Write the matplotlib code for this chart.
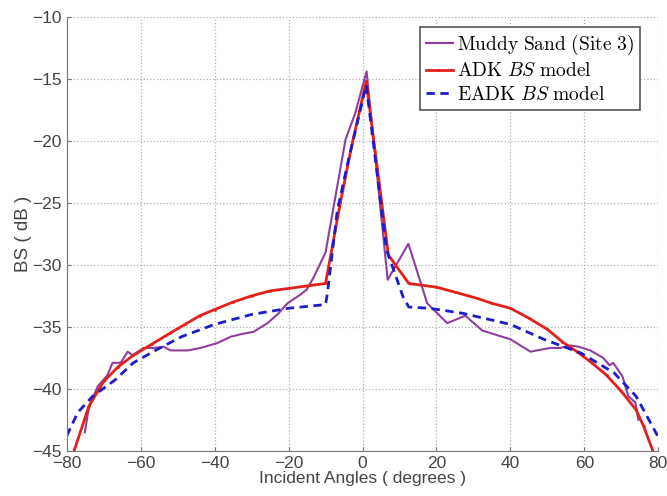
import matplotlib
matplotlib.use("Agg")
import matplotlib.pyplot as plt

plt.rcParams['mathtext.fontset'] = 'cm'
plt.rcParams['font.family'] = ['Liberation Sans', 'DejaVu Sans']

# medidas (Muddy Sand, site 3)
ang_med = [-75.1, -74, -71.6, -69, -67.6, -65.4, -63.5, -62.2, -59.2, -56.5, -53.8, -51.9,
           -47.3, -43.8, -39.2, -35.7, -33, -29.5, -25.7, -23, -20.3, -16.8, -15.1, -13.2,
           -10, -4.6, -2, 1.1, 6.8, 12.4, 17.5, 22.9, 27.8, 32.4, 40, 45.4, 50.8, 53.5,
           56.2, 58.4, 61.6, 65.1, 66.8, 67.8, 70.3, 71.9, 73.8, 74.6]
bs_med = [-43.5, -41.5, -39.8, -38.9, -37.9, -37.9, -37.0, -37.3, -36.7, -36.7, -36.6, -36.9,
          -36.9, -36.7, -36.3, -35.8, -35.6, -35.4, -34.7, -34.0, -33.1, -32.4, -32.0, -31.0,
          -29.0, -19.9, -17.8, -14.4, -31.2, -28.3, -33.1, -34.7, -34.1, -35.3, -36.0, -37.0, -36.7, -36.7,
          -36.5, -36.6, -36.9, -37.5, -38.1, -37.9, -39.0, -40.6, -41.1, -42.5]

# modelo ADK
ang_adk = [-79, -78, -74, -70, -66, -62, -57, -52, -48, -44, -40, -35, -30, -25, -20, -15, -10,
           -6, -3, 1, 7, 12.5, 20, 25, 31, 35, 40, 45, 50, 54, 58, 62, 66, 70, 74, 76, 78.4, 79]
bs_adk = [-46.2, -45.0, -41.4, -39.4, -38.2, -37.3, -36.4, -35.5, -34.8, -34.1, -33.6, -33.0,
          -32.5, -32.1, -31.9, -31.7, -31.5, -25.0, -20.5, -15.2, -29.2, -31.5, -31.8, -32.2,
          -32.7, -33.1, -33.5, -34.3, -35.2, -36.2, -37.0, -37.9, -38.9, -40.2, -41.7, -43.0,
          -44.9, -45.6]

# modelo EADK
ang_eadk = [-80, -77, -73, -67, -62, -56, -49, -40, -30, -20, -10, -9.5, -6.8, -4, 1, 6.5,
            11, 12.5, 18, 27, 40, 49, 59, 68, 74, 80]
bs_eadk = [-43.8, -41.9, -40.6, -39.3, -37.9, -36.9, -35.8, -34.8, -34.0, -33.5, -33.2, -32.3,
           -25.6, -21.8, -15.5, -28.8, -32.6, -33.4, -33.5, -33.9, -34.8, -36.0, -37.1, -38.7,
           -40.6, -43.9]

fig = plt.figure(figsize=(6.67, 4.96), dpi=100)
ax = fig.add_axes([0.1, 0.091, 0.887, 0.875])

ax.plot(ang_med, bs_med, color='#8e3f9e', lw=1.5, label=r'$\mathrm{Muddy\ Sand\ (Site\ 3)}$')
ax.plot(ang_adk, bs_adk, color='#e3201b', lw=2, marker='.', markersize=2,
        label=r'$\mathrm{ADK}\ BS\ \mathrm{model}$')
ax.plot(ang_eadk, bs_eadk, color='#1c1ccc', lw=2, ls=(0, (3, 2)),
        label=r'$\mathrm{EADK}\ BS\ \mathrm{model}$')

ax.set_xlim(-80, 80)
ax.set_ylim(-45, -10)
ax.set_xticks(range(-80, 81, 20))
ax.set_yticks(range(-45, -9, 5))
ax.grid(True, ls=':', color='#b0b0b0', lw=0.9)
for s in ['top', 'right']:
    ax.spines[s].set_visible(False)
for s in ['left', 'bottom']:
    ax.spines[s].set_color('#777777')
ax.tick_params(direction='in', length=3, colors='#777777', labelcolor='#444444', labelsize=12.5)
ax.set_xlabel('Incident Angles ( degrees )', fontsize=12.5, color='#444444', labelpad=0)
ax.set_ylabel('BS ( dB )', fontsize=13.5, color='#444444', labelpad=0)

leg = ax.legend(loc='upper right', fontsize=14, handlelength=1.4, handletextpad=0.2,
                borderpad=0.3, labelspacing=0.3, fancybox=False, framealpha=1,
                bbox_to_anchor=(0.985, 1.0))
leg.get_frame().set_edgecolor('#555555')
leg.get_frame().set_linewidth(1.2)

plt.savefig('out.png', dpi=100)
